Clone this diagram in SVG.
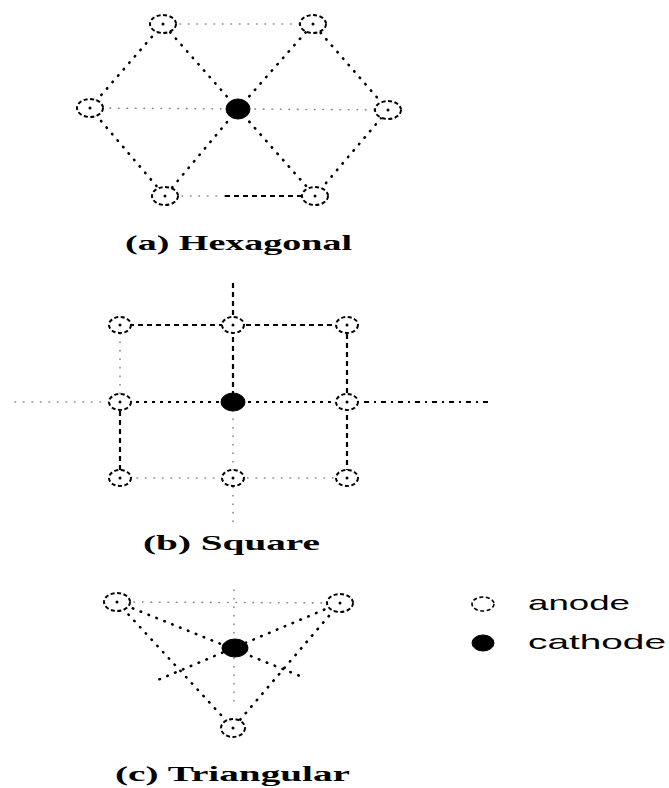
<svg xmlns="http://www.w3.org/2000/svg" width="669" height="788" viewBox="0 0 669 788">
<style>
.dot{fill:none;stroke:#000;stroke-width:2.6;stroke-dasharray:0.5 8;stroke-linecap:round}
.faint{fill:none;stroke:#888;stroke-width:1.6;stroke-dasharray:0.5 8;stroke-linecap:round}
.dash{fill:none;stroke:#000;stroke-width:2.2;stroke-dasharray:5 4}
.anode{fill:#fff;stroke:#000;stroke-width:2;stroke-dasharray:4 2.5}
.core{fill:#000}
.cathode{fill:#000;stroke:#000;stroke-width:1}
.lbl{font-family:"Liberation Serif","Times New Roman",serif;font-weight:bold;font-size:22px;fill:#000}
.leg{font-family:"Liberation Sans",Arial,sans-serif;font-size:21px;fill:#000}
</style>
<rect width="669" height="788" fill="#fff"/>
<g id="connectors">
  <!-- hexagonal -->
  <line class="faint" x1="163" y1="24" x2="313" y2="24"/>
  <line class="dot" x1="163" y1="24" x2="90" y2="108"/>
  <line class="dot" x1="90" y1="108" x2="165" y2="196"/>
  <line class="faint" x1="165" y1="196" x2="225" y2="196"/>
  <line class="dash" x1="225" y1="196" x2="315" y2="196"/>
  <line class="dot" x1="315" y1="196" x2="388" y2="110"/>
  <line class="dot" x1="388" y1="110" x2="313" y2="24"/>
  <line class="dot" x1="238" y1="109" x2="163" y2="24"/>
  <line class="dot" x1="238" y1="109" x2="313" y2="24"/>
  <line class="faint" x1="238" y1="109" x2="90" y2="108"/>
  <line class="faint" x1="238" y1="109" x2="388" y2="110"/>
  <line class="dot" x1="238" y1="109" x2="165" y2="196"/>
  <line class="dot" x1="238" y1="109" x2="315" y2="196"/>
  <!-- square -->
  <line class="dash" x1="120" y1="325" x2="347" y2="325"/>
  <line class="faint" x1="120" y1="325" x2="120" y2="402"/>
  <line class="dash" x1="120" y1="402" x2="120" y2="478"/>
  <line class="dash" x1="233" y1="283" x2="233" y2="402"/>
  <line class="faint" x1="233" y1="402" x2="233" y2="525"/>
  <line class="dash" x1="347" y1="325" x2="347" y2="478"/>
  <line class="faint" x1="15" y1="402" x2="120" y2="402"/>
  <line class="dash" x1="120" y1="402" x2="347" y2="402" style="stroke-dasharray:3 5"/>
  <line class="dash" x1="347" y1="402" x2="490" y2="402" style="stroke-dasharray:5 5 2 5"/>
  <line class="faint" x1="120" y1="478" x2="347" y2="478"/>
  <!-- triangular -->
  <line class="faint" x1="117" y1="602" x2="340" y2="603"/>
  <line class="faint" x1="234" y1="590" x2="234" y2="705"/>
  <line class="dot" x1="117" y1="602" x2="233" y2="728"/>
  <line class="dot" x1="340" y1="603" x2="233" y2="728"/>
  <line class="dot" x1="117" y1="602" x2="305" y2="678"/>
  <line class="dot" x1="340" y1="603" x2="153" y2="682"/>
</g>
<g id="hex-tl"><ellipse class="anode" cx="163" cy="24" rx="13" ry="9"/><circle class="core" cx="163" cy="24" r="1.5"/></g>
<g id="hex-tr"><ellipse class="anode" cx="313" cy="24" rx="13" ry="9"/><circle class="core" cx="313" cy="24" r="1.5"/></g>
<g id="hex-l"><ellipse class="anode" cx="90" cy="108" rx="13" ry="9"/><circle class="core" cx="90" cy="108" r="1.5"/></g>
<g id="hex-r"><ellipse class="anode" cx="388" cy="110" rx="13" ry="9"/><circle class="core" cx="388" cy="110" r="1.5"/></g>
<g id="hex-bl"><ellipse class="anode" cx="165" cy="196" rx="13" ry="9"/><circle class="core" cx="165" cy="196" r="1.5"/></g>
<g id="hex-br"><ellipse class="anode" cx="315" cy="196" rx="13" ry="9"/><circle class="core" cx="315" cy="196" r="1.5"/></g>
<g id="hex-c"><ellipse class="cathode" cx="238" cy="109" rx="12" ry="10"/></g>
<g id="label-a"><text class="lbl" x="125" y="250" textLength="227" lengthAdjust="spacingAndGlyphs">(a) Hexagonal</text></g>

<g id="sq-tl"><ellipse class="anode" cx="120" cy="325" rx="11" ry="8"/><circle class="core" cx="120" cy="325" r="1.5"/></g>
<g id="sq-tc"><ellipse class="anode" cx="233" cy="325" rx="11" ry="8"/><circle class="core" cx="233" cy="325" r="1.5"/></g>
<g id="sq-tr"><ellipse class="anode" cx="347" cy="325" rx="11" ry="8"/><circle class="core" cx="347" cy="325" r="1.5"/></g>
<g id="sq-ml"><ellipse class="anode" cx="120" cy="402" rx="11" ry="8"/><circle class="core" cx="120" cy="402" r="1.5"/></g>
<g id="sq-c"><ellipse class="cathode" cx="233" cy="402" rx="12" ry="9"/></g>
<g id="sq-mr"><ellipse class="anode" cx="347" cy="402" rx="11" ry="8"/><circle class="core" cx="347" cy="402" r="1.5"/></g>
<g id="sq-bl"><ellipse class="anode" cx="120" cy="478" rx="11" ry="8"/><circle class="core" cx="120" cy="478" r="1.5"/></g>
<g id="sq-bc"><ellipse class="anode" cx="233" cy="478" rx="11" ry="8"/><circle class="core" cx="233" cy="478" r="1.5"/></g>
<g id="sq-br"><ellipse class="anode" cx="347" cy="478" rx="11" ry="8"/><circle class="core" cx="347" cy="478" r="1.5"/></g>
<g id="label-b"><text class="lbl" x="143" y="550" textLength="177" lengthAdjust="spacingAndGlyphs">(b) Square</text></g>

<g id="tri-tl"><ellipse class="anode" cx="117" cy="602" rx="13" ry="9"/><circle class="core" cx="117" cy="602" r="1.5"/></g>
<g id="tri-tr"><ellipse class="anode" cx="340" cy="603" rx="13" ry="9"/><circle class="core" cx="340" cy="603" r="1.5"/></g>
<g id="tri-b"><ellipse class="anode" cx="233" cy="728" rx="12" ry="9"/><circle class="core" cx="233" cy="728" r="1.5"/></g>
<g id="tri-c"><ellipse class="cathode" cx="235" cy="648" rx="13" ry="9"/></g>
<g id="label-c"><text class="lbl" x="115" y="781" textLength="235" lengthAdjust="spacingAndGlyphs">(c) Triangular</text></g>

<g id="legend-anode"><ellipse class="anode" cx="483" cy="604" rx="11" ry="7" style="stroke-width:1.6"/><text class="leg" x="528" y="610" textLength="102" lengthAdjust="spacingAndGlyphs">anode</text></g>
<g id="legend-cathode"><ellipse class="cathode" cx="483" cy="643" rx="11" ry="8"/><text class="leg" x="528" y="649" textLength="138" lengthAdjust="spacingAndGlyphs">cathode</text></g>
</svg>
